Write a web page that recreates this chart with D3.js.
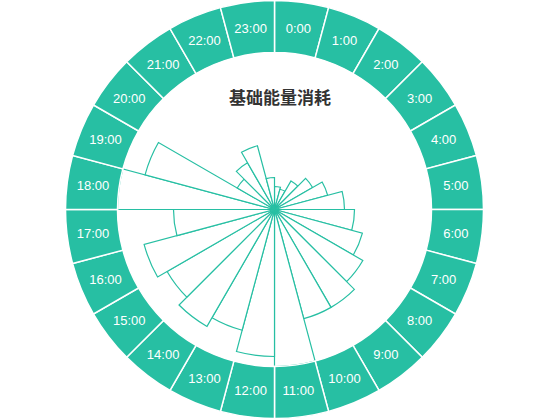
<!DOCTYPE html>
<html>
<head>
<meta charset="utf-8">
<script src="https://cdn.jsdelivr.net/npm/d3@7"></script>
<style>
  html, body { margin: 0; padding: 0; background: #fff; }
  svg { display: block; }
</style>
</head>
<body>
<svg id="chart" width="550" height="420"></svg>
<script>
const title = "基础能量消耗";
const hours = ["0:00","1:00","2:00","3:00","4:00","5:00","6:00","7:00","8:00","9:00","10:00","11:00",
               "12:00","13:00","14:00","15:00","16:00","17:00","18:00","19:00","20:00","21:00","22:00","23:00"];
const values = [23, 21, 33, 44, 55, 70, 80, 91, 102, 113, 113, 157,
                147, 125, 135, 124, 135, 101, 157, 134, 43, 54, 66, 32];

const W = 550, H = 420;
const cx = 274.5, cy = 209.5;
const innerR = 157, outerR = 209, labelR = 183;
const teal = "#27bfa3";

const svg = d3.select("#chart");
const g = svg.append("g").attr("transform", `translate(${cx},${cy})`);

const angle = d3.scaleBand().domain(hours).range([0, 2 * Math.PI]).padding(0);
const radius = d3.scaleLinear().domain([0, 157]).range([0, innerR]);

// inner wedges
const wedge = d3.arc()
  .innerRadius(0)
  .outerRadius(d => radius(d.v))
  .startAngle(d => angle(d.h))
  .endAngle(d => angle(d.h) + angle.bandwidth());

const data = hours.map((h, i) => ({ h, v: values[i] }));

g.append("g").selectAll("path").data(data).join("path")
  .attr("d", wedge)
  .attr("fill", "#fff")
  .attr("stroke", teal)
  .attr("stroke-width", 1.2)
  .attr("stroke-linejoin", "miter");

// outer ring
const ring = d3.arc()
  .innerRadius(innerR)
  .outerRadius(outerR)
  .startAngle(d => angle(d))
  .endAngle(d => angle(d) + angle.bandwidth());

g.append("g").selectAll("path").data(hours).join("path")
  .attr("d", ring)
  .attr("fill", teal)
  .attr("stroke", "#fff")
  .attr("stroke-width", 1.5);

g.append("g").selectAll("text").data(hours).join("text")
  .attr("x", d => labelR * Math.sin(angle(d) + angle.bandwidth() / 2))
  .attr("y", d => -labelR * Math.cos(angle(d) + angle.bandwidth() / 2))
  .attr("text-anchor", "middle")
  .attr("dominant-baseline", "central")
  .attr("fill", "#fff")
  .attr("font-family", "'Liberation Sans', Arial, sans-serif")
  .attr("font-size", 13)
  .text(d => d);

svg.append("text")
  .attr("x", 280)
  .attr("y", 104)
  .attr("text-anchor", "middle")
  .attr("fill", "#333")
  .attr("font-family", "'Noto Sans CJK SC', sans-serif")
  .attr("font-weight", "bold")
  .attr("font-size", 17)
  .text(title);
</script>
</body>
</html>
